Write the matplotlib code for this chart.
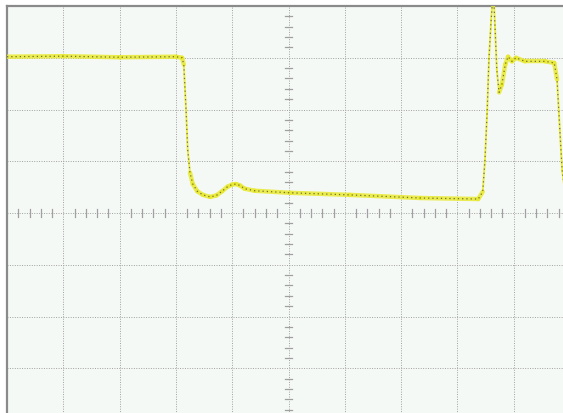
import matplotlib
matplotlib.use("Agg")
import matplotlib.pyplot as plt
from matplotlib.collections import LineCollection
import numpy as np

# trace, in screen divisions (x: 0..10, y: -4..4)
trace_x = [0.0, 1.0, 2.0, 3.0, 3.11, 3.14, 3.18, 3.21, 3.25, 3.30, 3.38, 3.48,
           3.61, 3.72, 3.82, 3.92, 4.00, 4.07, 4.14, 4.22, 4.40, 5.03, 6.09,
           7.34, 8.37, 8.45, 8.49, 8.53, 8.56, 8.60, 8.63, 8.65, 8.67, 8.70,
           8.74, 8.79, 8.85, 8.90, 8.97, 9.04, 9.20, 9.56, 9.72, 9.77, 9.82,
           9.86, 9.91]
trace_y = [3.02, 3.03, 3.01, 3.02, 3.00, 2.87, 2.00, 1.22, 0.78, 0.56, 0.42, 0.35,
           0.31, 0.34, 0.42, 0.51, 0.55, 0.56, 0.53, 0.47, 0.43, 0.39, 0.35,
           0.29, 0.27, 0.41, 1.03, 2.00, 2.97, 3.74, 4.20, 4.05, 3.55, 2.77,
           2.33, 2.48, 2.87, 3.02, 2.93, 3.00, 2.93, 2.93, 2.90, 2.58, 1.60,
           0.83, 0.40]

BG = "#f5f9f6"
GRID = "#a0a0a0"

fig = plt.figure(figsize=(5.63, 4.14), dpi=100)
fig.patch.set_facecolor("white")
ax = fig.add_axes([7 / 563, -7 / 414, 563 / 563, 414 / 414])
ax.set_facecolor(BG)
ax.set_xlim(0, 10)
ax.set_ylim(-4, 4)
ax.set_xticks([])
ax.set_yticks([])
for s in ["right", "bottom"]:
    ax.spines[s].set_visible(False)
for s in ["left", "top"]:
    ax.spines[s].set_color("#8a8a8a")
    ax.spines[s].set_linewidth(1.6)

# dotted graticule
for gx in range(1, 10):
    ax.axvline(gx, color=GRID, lw=0.7, ls=(0, (1, 1.5)), zorder=1)
for gy in range(-3, 4):
    ax.axhline(gy, color=GRID, lw=0.7, ls=(0, (1, 1.5)), zorder=1)

# minor ticks on centre axes
for t in np.arange(0.2, 10, 0.2):
    if abs(t - round(t)) > 1e-6:
        ax.plot([t, t], [-0.07, 0.07], color=GRID, lw=0.9, zorder=1)
for t in np.arange(-3.8, 4, 0.2):
    if abs(t - round(t)) > 1e-6:
        ax.plot([4.93, 5.07], [t, t], color=GRID, lw=0.9, zorder=1)

# trace: yellow band with dark speckle, thinner on fast edges
pts = np.column_stack([trace_x, trace_y])
segs = np.stack([pts[:-1], pts[1:]], axis=1)
slope = np.abs(np.diff(trace_y) / np.diff(trace_x))
widths = np.where(slope > 8, 1.4, 3.2)
ax.add_collection(LineCollection(segs, colors="#e9e930", linewidths=widths,
                                 alpha=0.85, capstyle="round", zorder=3))
ax.plot(trace_x, trace_y, color="#3d3d1a", lw=0.9, ls=(0, (1, 2.4)),
        alpha=0.7, zorder=4)

plt.savefig("out.png", dpi=100, facecolor="white")
